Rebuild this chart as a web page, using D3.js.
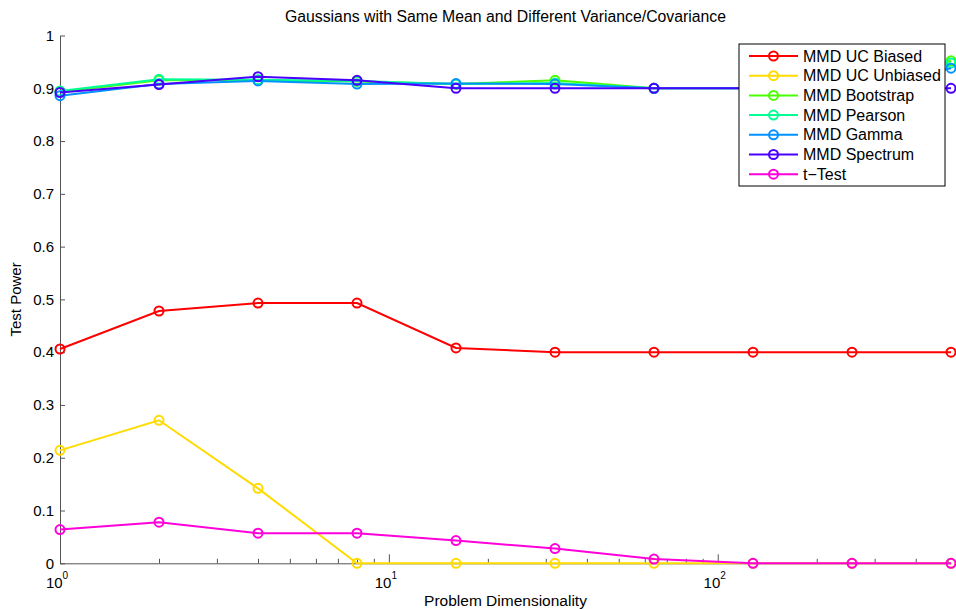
<!DOCTYPE html>
<html>
<head>
<meta charset="utf-8">
<script src="https://cdn.jsdelivr.net/npm/d3@7"></script>
<style>
  body { margin: 0; background: #fff; }
  svg { display: block; font-family: "Liberation Sans", Arial, sans-serif; }
  .axis path, .axis line { stroke: #555; }
  .axis text { fill: #000; font-size: 15px; }
</style>
</head>
<body>
<svg id="chart" width="956" height="609"></svg>
<script>
// problem dimensionality (x) and test power per method
const dims = [1, 2, 4, 8, 16, 32, 64, 128, 256, 512];
const names = ["MMD UC Biased", "MMD UC Unbiased", "MMD Bootstrap", "MMD Pearson", "MMD Gamma", "MMD Spectrum", "t\u2212Test"];
const colors = ["#ff0000", "#ffdb00", "#49ff00", "#00ff92", "#0092ff", "#4900ff", "#ff00db"];

const ucBiased   = [0.406, 0.478, 0.493, 0.493, 0.408, 0.400, 0.400, 0.400, 0.400, 0.400];
const ucUnbiased = [0.214, 0.271, 0.142, 0.000, 0.000, 0.000, 0.000, 0.000, 0.000, 0.000];
const bootstrap  = [0.893, 0.915, 0.915, 0.913, 0.908, 0.915, 0.900, 0.900, 0.900, 0.952];
const pearson    = [0.895, 0.917, 0.916, 0.914, 0.908, 0.910, 0.900, 0.900, 0.900, 0.948];
const gamma      = [0.886, 0.908, 0.914, 0.908, 0.909, 0.908, 0.900, 0.900, 0.900, 0.938];
const spectrum   = [0.892, 0.907, 0.922, 0.915, 0.900, 0.900, 0.900, 0.900, 0.900, 0.900];
const tTest      = [0.064, 0.078, 0.057, 0.057, 0.043, 0.028, 0.008, 0.000, 0.000, 0.000];

const yTicks = d3.range(0, 11).map(i => i / 10);
const xMajor = [1, 10, 100];
const xMinor = [2, 3, 4, 5, 6, 7, 8, 9, 20, 30, 40, 50, 60, 70, 80, 90, 200, 300, 400, 500];

const series = [ucBiased, ucUnbiased, bootstrap, pearson, gamma, spectrum, tTest]
  .map((vals, i) => ({ name: names[i], color: colors[i], values: vals.map((v, j) => ({ x: dims[j], y: v })) }));

const svg = d3.select("#chart");
const x = d3.scaleLog().domain([1, 512]).range([60, 951]);
const y = d3.scaleLinear().domain([0, 1]).range([563.3, 35.5]);

// axes - ticks point inward, no box
svg.append("g").attr("class", "axis")
  .attr("transform", `translate(${x(1)},0)`)
  .call(d3.axisLeft(y).tickValues(yTicks).tickSizeInner(-5).tickSizeOuter(0).tickPadding(6)
    .tickFormat(d => d3.format("~g")(d)));

svg.append("g").attr("class", "axis")
  .attr("transform", `translate(0,${y(0)})`)
  .call(d3.axisBottom(x).tickValues(xMajor).tickSizeInner(-9).tickSizeOuter(0).tickFormat(""));

svg.append("g").attr("class", "axis")
  .attr("transform", `translate(0,${y(0)})`)
  .call(d3.axisBottom(x).tickValues(xMinor).tickSizeInner(-4.5).tickSizeOuter(0).tickFormat(""))
  .select(".domain").remove();

// 10^n labels
const xl = svg.append("g").selectAll("text")
  .data(xMajor).enter().append("text")
  .attr("x", d => x(d) - 3)
  .attr("y", 588)
  .attr("text-anchor", "middle")
  .style("font-size", "15px");
xl.append("tspan").text("10");
xl.append("tspan").attr("dy", -9).style("font-size", "10px").text(d => Math.round(Math.log10(d)));

// lines and markers
const line = d3.line().x(d => x(d.x)).y(d => y(d.y));

const groups = svg.selectAll(".series")
  .data(series)
  .enter().append("g")
  .attr("class", "series");

groups.append("path")
  .attr("d", d => line(d.values))
  .attr("fill", "none")
  .attr("stroke", d => d.color)
  .attr("stroke-width", 2);

groups.selectAll("circle")
  .data(d => d.values.map(v => ({ ...v, color: d.color })))
  .enter().append("circle")
  .attr("cx", d => x(d.x))
  .attr("cy", d => y(d.y))
  .attr("r", 4.5)
  .attr("fill", "none")
  .attr("stroke", d => d.color)
  .attr("stroke-width", 2);

// title and axis labels
svg.append("text")
  .attr("x", (x(1) + x(512)) / 2)
  .attr("y", 22)
  .attr("text-anchor", "middle")
  .style("font-size", "15.8px")
  .text("Gaussians with Same Mean and Different Variance/Covariance");

svg.append("text")
  .attr("x", (x(1) + x(512)) / 2)
  .attr("y", 606)
  .attr("text-anchor", "middle")
  .style("font-size", "15.5px")
  .text("Problem Dimensionality");

svg.append("text")
  .attr("transform", `translate(21,${(y(0) + y(1)) / 2}) rotate(-90)`)
  .attr("text-anchor", "middle")
  .style("font-size", "15px")
  .text("Test Power");

// legend
const legend = svg.append("g").attr("transform", "translate(739,44)");
legend.append("rect")
  .attr("width", 206).attr("height", 142)
  .attr("fill", "#fff").attr("stroke", "#000").attr("stroke-width", 1);

const items = legend.selectAll(".item")
  .data(series)
  .enter().append("g")
  .attr("class", "item")
  .attr("transform", (d, i) => `translate(0,${12 + i * 19.7})`);

items.append("line")
  .attr("x1", 10).attr("x2", 59)
  .attr("stroke", d => d.color).attr("stroke-width", 2);
items.append("circle")
  .attr("cx", 34.5).attr("r", 4.5)
  .attr("fill", "none").attr("stroke", d => d.color).attr("stroke-width", 2);
items.append("text")
  .attr("x", 64).attr("dy", "0.35em")
  .style("font-size", "16px")
  .text(d => d.name);
</script>
</body>
</html>
